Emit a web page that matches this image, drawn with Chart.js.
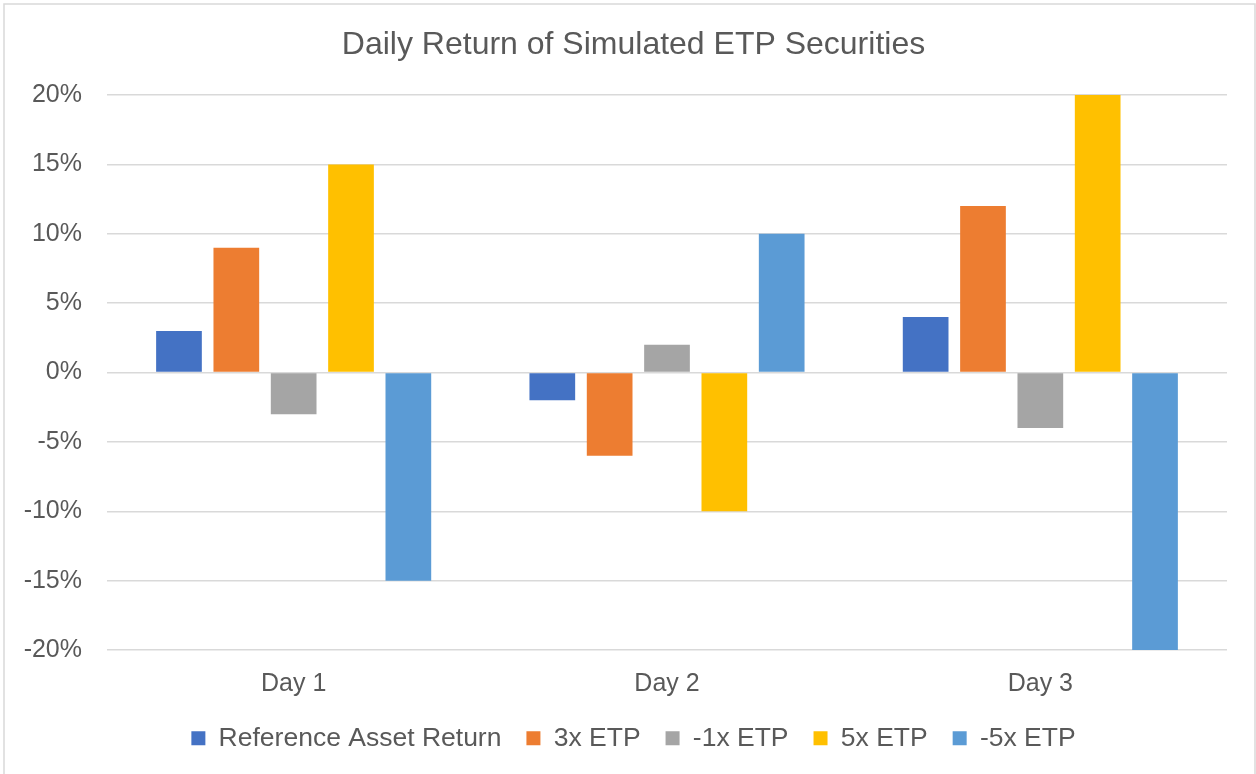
<!DOCTYPE html>
<html>
<head>
<meta charset="utf-8">
<title>Daily Return of Simulated ETP Securities</title>
<script src="https://cdn.jsdelivr.net/npm/chart.js@4/dist/chart.umd.min.js"></script>
<style>
  html, body { margin: 0; padding: 0; background: #fff; }
  canvas { display: block; }
</style>
</head>
<body>
<canvas id="etpChart" width="1256" height="774"></canvas>
<script>
// Chart data
const days = ['Day 1', 'Day 2', 'Day 3'];
const refAsset = [0.03, -0.02, 0.04];
const etp3x = [0.09, -0.06, 0.12];
const etpMinus1x = [-0.03, 0.02, -0.04];
const etp5x = [0.15, -0.10, 0.20];
const etpMinus5x = [-0.15, 0.10, -0.20];

const FONT = '"Liberation Sans", Arial, sans-serif';
const TEXT = '#595959';
const GRID = '#d9d9d9';

// Light gray frame round the whole chart, like the Excel chart border
const framePlugin = {
    id: 'frame',
    beforeDraw(chart) {
        const c = chart.ctx;
        c.save();
        c.fillStyle = '#fff';
        c.fillRect(0, 0, chart.width, chart.height);
        c.strokeStyle = GRID;
        c.lineWidth = 1.5;
        c.strokeRect(4, 4, 1251, 900);
        c.restore();
    }
};

// Excel centres title and legend on the whole frame, not on the plot area
const centerBoxes = {
    id: 'centerBoxes',
    afterLayout(chart) {
        if (chart.legend) chart.legend.left = 40;
        if (chart.titleBlock) chart.titleBlock.left = 40;
    }
};

function series(label, data, color) {
    return {
        label: label,
        data: data,
        backgroundColor: color,
        borderWidth: 0,
        categoryPercentage: 0.768,
        barPercentage: 0.797
    };
}

const ctx = document.getElementById('etpChart').getContext('2d');

new Chart(ctx, {
    type: 'bar',
    data: {
        labels: days,
        datasets: [
            series('Reference Asset Return', refAsset, '#4472C4'),
            series('3x ETP', etp3x, '#ED7D31'),
            series('-1x ETP', etpMinus1x, '#A5A5A5'),
            series('5x ETP', etp5x, '#FFC000'),
            series('-5x ETP', etpMinus5x, '#5B9BD5')
        ]
    },
    options: {
        responsive: false,
        animation: false,
        layout: { padding: { left: 0, right: 29, top: 0, bottom: 12.5 } },
        scales: {
            x: {
                grid: { display: false, drawTicks: false },
                border: { display: false },
                ticks: { color: TEXT, font: { family: FONT, size: 25 }, padding: 19 },
                afterFit: (s) => { s.height = 50; }
            },
            y: {
                min: -0.2,
                max: 0.2,
                grid: { color: GRID, lineWidth: 1.5, drawTicks: false },
                border: { display: false },
                ticks: {
                    stepSize: 0.05,
                    color: TEXT,
                    font: { family: FONT, size: 25 },
                    padding: 25,
                    callback: (v) => Math.round(v * 100) + '%'
                },
                afterFit: (s) => { s.width = 107; }
            }
        },
        plugins: {
            title: {
                display: true,
                text: 'Daily Return of Simulated ETP Securities',
                color: TEXT,
                font: { family: FONT, size: 32, weight: 'normal' },
                padding: { top: 26, bottom: 30.6 }
            },
            legend: {
                position: 'bottom',
                labels: {
                    color: TEXT,
                    font: { family: FONT, size: 26.5 },
                    boxWidth: 14,
                    boxHeight: 14,
                    padding: 25
                }
            },
            tooltip: { enabled: false }
        }
    },
    plugins: [framePlugin, centerBoxes]
});
</script>
</body>
</html>
